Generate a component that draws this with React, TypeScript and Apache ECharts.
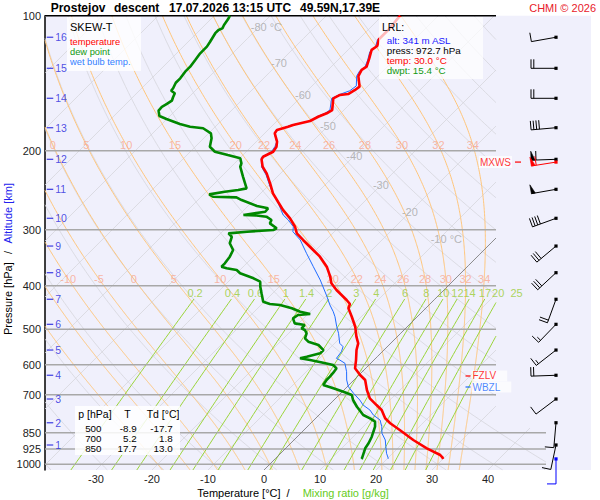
import React, { useEffect, useRef } from "react";
import * as echarts from "echarts";

// ---------------- sounding data: [pressure hPa, temperature °C] ----------------
const temperatureProfile: number[][] = [
  [100, -56.8], [102.2, -56.7], [106.7, -56.4], [111.4, -56.4], [112.9, -56.4], [116.8, -55.5],
  [119.2, -55.8], [124.5, -54.7], [129.9, -53.7], [132.1, -54.0], [136.3, -53.5], [143.9, -51.4],
  [146.4, -51.6], [149.5, -52.1], [150.2, -53.4], [152.8, -54.0], [162.3, -52.1], [165.0, -52.5],
  [168.0, -53.4], [171.7, -54.1], [175.3, -56.4], [176.8, -57.0], [179.8, -58.4], [182.9, -58.2],
  [190.9, -56.3], [195.9, -55.5], [201.0, -55.2], [206.3, -56.1], [209.1, -55.9], [217.1, -54.4],
  [224.6, -52.5], [236.4, -50.1], [248.9, -47.8], [259.9, -45.4], [271.2, -43.0], [282.9, -40.3],
  [295.4, -37.9], [305.6, -36.4], [316.2, -34.1], [332.9, -30.5], [344.5, -28.1], [362.6, -25.1],
  [381.7, -22.7], [395.0, -21.3], [408.8, -19.2], [430.3, -15.6], [439.2, -14.3], [449.0, -13.8],
  [468.8, -11.7], [493.5, -9.3], [519.5, -7.3], [537.4, -5.8], [556.3, -4.9], [585.6, -3.2],
  [611.0, -1.9], [632.4, 0.2], [648.9, 2.0], [683.1, 4.1], [712.8, 6.1], [737.8, 8.5],
  [756.8, 10.3], [789.7, 12.4], [810.2, 14.2], [838.6, 17.1], [882.7, 21.3], [921.1, 25.2],
  [953.5, 28.8], [964.8, 29.6], [972.7, 30.0],
];

const dewPointProfile: number[][] = [
  [100, -87.2], [101.9, -86.9], [104.9, -86.6], [106.7, -86.3], [107.6, -86.7], [109.4, -86.7],
  [114.3, -86.1], [117.2, -85.8], [121.3, -85.8], [125.5, -85.5], [129.9, -85.2], [133.3, -85.2],
  [137.9, -84.9], [141.1, -84.9], [145.1, -84.4], [147.0, -84.3], [148.9, -83.2], [152.0, -82.8],
  [154.7, -82.4], [157.3, -82.7], [159.6, -83.1], [162.8, -83.0], [167.3, -81.9], [169.9, -80.1],
  [174.4, -76.8], [176.8, -74.5], [178.2, -71.9], [182.9, -69.6], [187.6, -68.6], [195.9, -67.4],
  [201.0, -65.6], [204.5, -62.7], [207.9, -59.9], [213.3, -58.8], [217.1, -58.4], [228.6, -56.1],
  [242.6, -53.4], [244.7, -54.6], [246.8, -56.7], [250.2, -59.0], [253.3, -57.9], [254.1, -53.6],
  [257.6, -52.2], [265.6, -48.4], [268.8, -46.0], [273.5, -45.9], [278.2, -49.2], [278.9, -46.8],
  [280.6, -44.8], [285.4, -43.3], [290.3, -43.0], [297.8, -40.9], [300.4, -41.2], [303.0, -45.6],
  [305.6, -48.6], [311.0, -47.4], [321.6, -46.6], [332.9, -44.8], [344.5, -44.2], [356.4, -43.9],
  [362.6, -43.9], [365.6, -42.7], [368.8, -40.6], [375.1, -39.4], [384.9, -36.1], [391.7, -34.3],
  [401.8, -33.4], [415.7, -32.0], [434.0, -30.2], [439.2, -28.6], [441.4, -26.6], [449.0, -23.9],
  [456.9, -21.8], [462.4, -19.6], [464.8, -21.6], [472.8, -21.9], [485.1, -20.7], [489.3, -18.6],
  [497.6, -18.6], [501.9, -17.7], [510.5, -16.8], [523.7, -16.2], [533.0, -15.0], [542.0, -12.6],
  [556.3, -10.8], [565.8, -10.8], [575.7, -12.6], [580.5, -13.5], [585.6, -11.4], [593.7, -8.6],
  [600.7, -6.4], [611.0, -5.2], [624.9, -5.0], [637.8, -4.9], [648.9, -4.9], [665.7, -4.6],
  [677.1, -2.2], [689.0, 0.2], [700.7, 2.3], [718.9, 3.4], [744.3, 5.3], [776.4, 7.9],
  [789.7, 9.7], [803.5, 11.2], [824.5, 12.1], [846.0, 12.7], [867.9, 13.3], [897.7, 13.9],
  [921.1, 14.2], [945.1, 14.8], [969.6, 15.4], [972.7, 15.4],
];

const wetBulbProfile: number[][] = [
  [100, -57.0], [106.7, -56.6], [112.9, -56.6], [117.2, -55.7], [120.3, -55.8], [125.5, -54.7],
  [130.3, -53.9], [132.6, -54.2], [136.3, -53.8], [143.4, -52.1], [147.0, -52.4], [149.7, -53.5],
  [152.8, -54.3], [162.3, -52.5], [165.0, -52.8], [168.0, -53.7], [171.4, -53.9], [175.3, -56.7],
  [180.3, -58.5], [183.5, -58.1], [191.2, -56.3], [195.9, -55.8], [201.0, -55.5], [206.9, -56.3],
  [217.1, -54.6], [226.5, -52.3], [240.5, -49.5], [251.0, -47.4], [257.6, -45.9], [278.2, -42.1],
  [285.4, -40.3], [295.4, -38.2], [303.0, -37.4], [316.2, -34.6], [338.6, -31.1], [362.6, -27.5],
  [388.2, -23.9], [419.5, -20.1], [441.4, -17.7], [456.9, -15.9], [468.8, -14.7], [493.5, -12.6],
  [510.5, -11.1], [537.4, -9.1], [546.8, -7.9], [561.1, -7.3], [580.5, -7.0], [585.6, -6.1],
  [595.5, -4.6], [621.8, -2.8], [648.9, -1.3], [671.5, 0.2], [694.6, 2.3], [718.9, 4.6],
  [737.8, 6.1], [756.8, 8.2], [776.4, 9.7], [796.7, 11.8], [824.5, 13.3], [852.8, 14.5],
  [882.7, 16.3], [913.7, 17.6], [945.1, 18.9], [969.6, 20.1], [972.7, 20.1],
];

// ---------------- axes / reference values ----------------
const pressureTicks = [100, 200, 300, 400, 500, 600, 700, 850, 925, 1000];
const temperatureTicks = [-30, -20, -10, 0, 10, 20, 30, 40];
const altitudeKm = [1, 2, 3, 4, 5, 6, 7, 8, 9, 10, 11, 12, 13, 14, 15, 16];
const altitudePressure = [905.7, 807.9, 715.3, 633.2, 556.3, 487.5, 428.7, 374.0, 326.2, 282.9, 243.8, 209.0, 177.7, 152.8, 131.0, 111.7];
const windDirection = [192, 185, 233, 268, 232, 224, 200, 227, 230, 250, 260, 268, 265, 270, 270, 260];
const windSpeed = [10, 10, 10, 20, 15, 15, 20, 30, 30, 40, 50, 60, 40, 20, 20, 10];
const surfaceWind = [972.7, 180, 10]; // p, dir, kt
const maxWind = [212, 261, 60]; // p, dir, kt
const freezingLevelP = 635.5;
const wetBulbZeroP = 672.5;
const isothermLabelT = [-80, -70, -60, -50, -40, -30, -20, -10];
const isothermLabelP = [106.1, 127.5, 150.2, 176.2, 205.1, 238.5, 274.0, 315.1];
const moistThetaW = [-20, -15, -10, -5, 0, 5, 10, 15, 20, 22, 24, 26, 28, 30, 32, 34];
const moistLabelsUpper = [0, 5, 10, 15, 20, 22, 24, 26, 28, 30, 32, 34];
const moistLabelsLower = [-10, -5, 0, 5, 10, 15, 20, 22, 24, 26, 28, 30, 32, 34];
const mixingRatios = [0.2, 0.4, 0.6, 1, 1.4, 2, 3, 4, 6, 8, 10, 12, 14, 17, 20, 25];
const tablePressure = [500, 700, 850];
const tableTemp = [-8.9, 5.2, 17.7];
const tableDew = [-17.7, 1.8, 13.0];
const lrlAlt = 341;
const lrlPress = 972.7;
const lrlTemp = 30.0;
const lrlDwpt = 15.4;

// ---------------- layout ----------------
const FONT = "'Liberation Sans', Arial, Helvetica, sans-serif";
const PLOT_LEFT = 45;
const PLOT_RIGHT = 591;
const PLOT_TOP = 15.7;
const PLOT_BOTTOM = 470;
const DEG_PX = 5.6;
const DECADE_PX = 448.6;
const ZERO_PX = 264;
const Y_MIN = 2;
const Y_MAX = 2 + (PLOT_BOTTOM - PLOT_TOP) / DECADE_PX;
const X_MIN = (PLOT_LEFT - ZERO_PX) / DEG_PX;
const X_MAX = (PLOT_RIGHT - ZERO_PX) / DEG_PX;
const SKEW = DECADE_PX / DEG_PX;
const P_BOTTOM = Math.pow(10, Y_MAX);
const log = Math.log10;
const skewX = (T: number, p: number) => T + (Y_MAX - log(p)) * SKEW;
const pxToX = (px: number) => (px - ZERO_PX) / DEG_PX;
const pyToY = (py: number) => Y_MIN + (py - PLOT_TOP) / DECADE_PX;
const LOW_BAND_Y = pyToY(428);
const rightEdge = (y: number) => (y >= LOW_BAND_Y ? pxToX(546) : pxToX(496));
const inside = (x: number, y: number) =>
  x >= X_MIN && x <= rightEdge(y) && y >= Y_MIN - 1e-9 && y <= Y_MAX + 1e-9;

function clip(pts: number[][]): number[][][] {
  const segs: number[][][] = [];
  let cur: number[][] = [];
  for (let i = 0; i < pts.length; i++) {
    const p = pts[i];
    const inP = inside(p[0], p[1]);
    if (i > 0) {
      const q = pts[i - 1];
      const inQ = inside(q[0], q[1]);
      if (inQ !== inP) {
        let a = 0, b = 1;
        for (let k = 0; k < 24; k++) {
          const m = (a + b) / 2;
          const mx = q[0] + (p[0] - q[0]) * m, my = q[1] + (p[1] - q[1]) * m;
          if (inside(mx, my) === inQ) a = m; else b = m;
        }
        const t = inQ ? a : b;
        const ip = [q[0] + (p[0] - q[0]) * t, q[1] + (p[1] - q[1]) * t];
        if (inQ) { cur.push(ip); if (cur.length > 1) segs.push(cur); cur = []; }
        else cur = [ip];
      }
    }
    if (inP) cur.push(p);
  }
  if (cur.length > 1) segs.push(cur);
  return segs;
}

function sampleY(fn: (y: number) => number[], n: number) {
  const pts: number[][] = [];
  for (let i = 0; i <= n; i++) pts.push(fn(Y_MIN + ((Y_MAX - Y_MIN) * i) / n));
  return pts;
}

function moistCurve(thw: number): number[][] {
  const Rd = 287.04, Cp = 1005.7, Lv = 2.501e6, eps = 0.622;
  const f = (Tk: number, p: number) => {
    const Tc = Tk - 273.15;
    const e = 6.112 * Math.exp((17.67 * Tc) / (Tc + 243.5));
    const rs = (eps * e) / (p - e);
    return (Rd * Tk + Lv * rs) / (p * (Cp + (Lv * Lv * rs * eps) / (Rd * Tk * Tk)));
  };
  const step = (T: number, p: number, h: number) => {
    const k1 = f(T, p), k2 = f(T + (h * k1) / 2, p + h / 2), k3 = f(T + (h * k2) / 2, p + h / 2), k4 = f(T + h * k3, p + h);
    return T + (h * (k1 + 2 * k2 + 2 * k3 + k4)) / 6;
  };
  const down: number[][] = [];
  let T = thw + 273.15, p = 1000;
  while (p < P_BOTTOM - 1e-6) { const h = Math.min(2, P_BOTTOM - p); T = step(T, p, h); p += h; down.push([p, T - 273.15]); }
  const up: number[][] = [[1000, thw]];
  T = thw + 273.15; p = 1000;
  while (p > 100 + 1e-6) { const h = -Math.min(2, p - 100); T = step(T, p, h); p += h; up.push([p, T - 273.15]); }
  return down.reverse().concat(up);
}

function tempAt(curve: number[][], p: number) {
  for (let i = 0; i < curve.length - 1; i++) {
    const a = curve[i], b = curve[i + 1];
    if ((a[0] - p) * (b[0] - p) <= 0) {
      const t = (p - a[0]) / (b[0] - a[0] || 1);
      return a[1] + (b[1] - a[1]) * t;
    }
  }
  return curve[curve.length - 1][1];
}

const dewFromMixing = (w: number, p: number) => {
  const e = (w * p) / (622 + w);
  const a = Math.log(e / 6.112);
  return (243.5 * a) / (17.67 - a);
};

function bgLines(segs: number[][][], color: string, width: number, z: number) {
  return {
    type: "lines", coordinateSystem: "cartesian2d", polyline: true, silent: true, z,
    data: segs.map((c) => ({ coords: c })),
    lineStyle: { color, width, opacity: 1 },
  };
}

function textSeries(items: { x: number; y: number; text: string }[], color: string, fontSize: number, extra: any = {}, z = 4) {
  return {
    type: "scatter", symbolSize: 1, silent: true, z,
    itemStyle: { color: "rgba(0,0,0,0)" },
    data: items.map((it) => ({ value: [it.x, it.y], name: it.text })),
    label: { show: true, position: "inside", formatter: "{b}", color, fontSize, fontFamily: FONT, ...extra },
  };
}

function buildOption() {
  const isoSegs: number[][][] = [];
  for (let T = -130; T <= 50; T += 10) isoSegs.push(...clip(sampleY((y) => [skewX(T, Math.pow(10, y)), y], 40)));
  const drySegs: number[][][] = [];
  for (let th = -40; th <= 180; th += 10)
    drySegs.push(...clip(sampleY((y) => {
      const p = Math.pow(10, y);
      return [skewX((th + 273.15) * Math.pow(p / 1000, 0.2857) - 273.15, p), y];
    }, 160)));
  const moistCurves: Record<number, number[][]> = {};
  const moistSegs: number[][][] = [];
  moistThetaW.forEach((tw) => {
    const c = moistCurve(tw);
    moistCurves[tw] = c;
    moistSegs.push(...clip(c.map(([p, T]) => [skewX(T, p), log(p)])));
  });
  const MIX_TOP = 428, MIX_LABEL = 416;
  const mixSegs: number[][][] = [];
  mixingRatios.forEach((w) => {
    const pts: number[][] = [];
    for (let i = 0; i <= 40; i++) {
      const y = log(P_BOTTOM) + ((log(MIX_TOP) - log(P_BOTTOM)) * i) / 40;
      const p = Math.pow(10, y);
      pts.push([skewX(dewFromMixing(w, p), p), y]);
    }
    mixSegs.push(...clip(pts));
  });
  const isobarSegs: number[][][] = pressureTicks.filter((p) => p > 100).map((p) => [[X_MIN, log(p)], [rightEdge(log(p)), log(p)]]);
  const topSeg = [[[X_MIN, Y_MIN], [pxToX(496), Y_MIN]]];
  const zeroSegs = clip(sampleY((y) => [skewX(0, Math.pow(10, y)), y], 40));

  const profile = (arr: number[][]) => arr.map(([p, T]) => [skewX(T, p), log(p)]);

  const isoLabels = isothermLabelT.map((T, i) => ({
    x: skewX(T, isothermLabelP[i]), y: log(isothermLabelP[i]),
    text: T === -80 || T === -10 ? `${T} °C` : `${T}`,
  }));
  const P_UP = 194.2, P_LOW = 386.2;
  const moistLabUp = moistLabelsUpper.map((tw) => ({ x: skewX(tempAt(moistCurves[tw], P_UP), P_UP), y: log(P_UP), text: `${tw}` }));
  const moistLabLow = moistLabelsLower.map((tw) => ({ x: skewX(tempAt(moistCurves[tw], P_LOW), P_LOW), y: log(P_LOW), text: `${tw}` }));
  const mixLabels = mixingRatios.map((w) => ({ x: skewX(dewFromMixing(w, MIX_LABEL), MIX_LABEL), y: log(MIX_LABEL), text: `${w}` }));

  const ALT_X = pxToX(50);
  const BARB_X = pxToX(556);
  const barbColors = ["#000000", "#ff0000", "#0000ff"];
  const barbData = altitudeKm.map((k, i) => [BARB_X, log(altitudePressure[i]), windDirection[i], windSpeed[i], 0]);
  barbData.push([BARB_X, log(surfaceWind[0]), surfaceWind[1], surfaceWind[2], 2]);
  barbData.push([BARB_X, log(maxWind[0]), maxWind[1], maxWind[2], 1]);

  const renderBarb = (params: any, api: any) => {
    const c = api.coord([api.value(0), api.value(1)]);
    const dir = (api.value(2) * Math.PI) / 180;
    const col = barbColors[api.value(4)];
    const sx = Math.sin(dir), sy = -Math.cos(dir);
    const bx = -sy, by = sx;
    const L = 25, B = 9;
    const ex = c[0] + L * sx, ey = c[1] + L * sy;
    const children: any[] = [
      { type: "line", shape: { x1: c[0], y1: c[1], x2: ex, y2: ey }, style: { stroke: col, lineWidth: 1 } },
      { type: "rect", shape: { x: c[0] - 1.6, y: c[1] - 1.6, width: 3.2, height: 3.2 }, style: { fill: col } },
    ];
    let s = Math.round(api.value(3) / 5) * 5;
    let pos = 0;
    while (s >= 50) {
      const ax = ex - pos * sx, ay = ey - pos * sy;
      children.push({ type: "polygon", shape: { points: [[ax, ay], [ax - 4 * sx, ay - 4 * sy], [ax + B * bx, ay + B * by]] }, style: { fill: col, stroke: col, lineWidth: 0.6 } });
      pos += 5; s -= 50;
    }
    while (s >= 10) {
      const ax = ex - pos * sx, ay = ey - pos * sy;
      children.push({ type: "line", shape: { x1: ax, y1: ay, x2: ax + B * bx, y2: ay + B * by }, style: { stroke: col, lineWidth: 1 } });
      pos += 2.8; s -= 10;
    }
    if (s >= 5) {
      if (pos === 0) pos = 2.8;
      const ax = ex - pos * sx, ay = ey - pos * sy;
      children.push({ type: "line", shape: { x1: ax, y1: ay, x2: ax + (B / 2) * bx, y2: ay + (B / 2) * by }, style: { stroke: col, lineWidth: 1 } });
    }
    return { type: "group", children };
  };

  const gtext = (x: number, y: number, text: string, o: any = {}) => ({
    type: "text", x, y, z: 30, silent: true, rotation: o.rotation || 0,
    style: {
      text, fill: o.fill || "#000", fontSize: o.size || 9.8, fontFamily: FONT, fontWeight: o.weight || "normal",
      align: o.align || "left", verticalAlign: "middle",
    },
  });
  const box = (x: number, y: number, w: number, h: number, op: number) => ({
    type: "rect", z: 25, silent: true, shape: { x, y, width: w, height: h }, style: { fill: `rgba(255,255,255,${op})` },
  });

  const graphic: any[] = [
    gtext(50.7, 7.5, "Prostejov", { weight: "bold", size: 12 }),
    gtext(114, 7.5, "descent", { weight: "bold", size: 12 }),
    gtext(169, 7.5, "17.07.2026 13:15 UTC", { weight: "bold", size: 12 }),
    gtext(300, 7.5, "49.59N,17.39E", { weight: "bold", size: 12 }),
    gtext(596, 7.5, "CHMI © 2026", { fill: "#e8202a", size: 11, align: "right" }),
    box(67, 17, 74, 54, 0.8),
    gtext(70, 26.7, "SKEW-T", { size: 11 }),
    gtext(70, 42.3, "temperature", { fill: "#ff0000", size: 9.3 }),
    gtext(70, 51.9, "dew point", { fill: "#119911", size: 9.3 }),
    gtext(70, 61.7, "wet bulb temp.", { fill: "#3380ff", size: 9.3 }),
    box(379, 17, 104, 62, 0.72),
    gtext(382, 27.3, "LRL:", { size: 10.5 }),
    gtext(386.7, 40, `alt: ${lrlAlt} m ASL`, { fill: "#1a1aff" }),
    gtext(386.7, 50.3, `press: ${lrlPress.toFixed(1)} hPa`),
    gtext(386.7, 60.5, `temp: ${lrlTemp.toFixed(1)} °C`, { fill: "#ff0000" }),
    gtext(386.7, 70.6, `dwpt: ${lrlDwpt.toFixed(1)} °C`, { fill: "#119911" }),
    box(75, 406, 105, 49, 0.85),
    gtext(78.3, 413.7, "p [hPa]", { size: 10.5 }),
    gtext(127.5, 413.7, "T", { size: 10.5, align: "center" }),
    gtext(146.7, 413.7, "Td [°C]", { size: 10.5 }),
    ...tablePressure.flatMap((p, i) => [
      gtext(93.3, 428.7 + i * 10, `${p}`, { align: "center" }),
      gtext(136.7, 428.7 + i * 10, tableTemp[i].toFixed(1), { align: "right" }),
      gtext(172.7, 428.7 + i * 10, tableDew[i].toFixed(1), { align: "right" }),
    ]),
    gtext(197.3, 493.3, "Temperature [°C]", { size: 11 }),
    gtext(288, 493.3, "/", { size: 11, align: "center" }),
    gtext(302.7, 493.3, "Mixing ratio [g/kg]", { size: 11, fill: "#66cc22" }),
    gtext(8, 335, "Pressure [hPa]", { size: 11, rotation: Math.PI / 2 }),
    gtext(8, 252.5, "/", { size: 11, rotation: Math.PI / 2, align: "center" }),
    gtext(8, 243.5, "Altitude [km]", { size: 11, rotation: Math.PI / 2, fill: "#2222ee" }),
  ];

  return {
    animation: false,
    textStyle: { fontFamily: FONT },
    grid: {
      left: PLOT_LEFT, right: 600 - PLOT_RIGHT, top: PLOT_TOP, bottom: 500 - PLOT_BOTTOM,
      show: true, backgroundColor: "#f0f0fc", borderWidth: 0, containLabel: false, outerBoundsMode: "none",
    },
    xAxis: {
      type: "value", min: X_MIN, max: X_MAX,
      axisLine: { show: false, onZero: false }, axisTick: { show: false }, splitLine: { show: false },
      axisLabel: { customValues: temperatureTicks, color: "#222", fontSize: 11, margin: 3, fontFamily: FONT, formatter: (v: number) => `${v}` },
    },
    yAxis: {
      type: "value", inverse: true, min: Y_MIN, max: Y_MAX,
      axisLine: { show: true, onZero: false, lineStyle: { color: "#000", width: 1.5 } },
      axisTick: { show: false }, splitLine: { show: false },
      axisLabel: {
        customValues: pressureTicks.map((p) => log(p)), color: "#222", fontSize: 11, margin: 4, fontFamily: FONT,
        formatter: (v: number) => `${Math.round(Math.pow(10, v))}`,
      },
    },
    graphic,
    series: [
      bgLines(isoSegs, "#d6d6dc", 0.8, 1),
      bgLines(drySegs, "#d6d6dc", 0.8, 1),
      bgLines(moistSegs, "#ffc57a", 1, 1),
      bgLines(mixSegs, "#9ad43a", 1, 1),
      bgLines(isobarSegs, "#a8a8a8", 1.5, 2),
      bgLines(topSeg, "#000000", 1.6, 2),
      bgLines(zeroSegs, "#777777", 0.8, 2),
      textSeries(isoLabels, "#a6a6a6", 11, { align: "left", offset: [-8, 0] }),
      textSeries(moistLabUp, "#f9a78f", 11),
      textSeries(moistLabLow, "#f9a78f", 11),
      textSeries(mixLabels, "#99cc33", 11, { offset: [-3, 0] }),
      { type: "line", data: profile(wetBulbProfile), symbol: "none", silent: true, z: 5, lineStyle: { color: "#1f6bff", width: 1 } },
      { type: "line", data: profile(dewPointProfile), symbol: "none", silent: true, z: 6, lineStyle: { color: "#008800", width: 2.6 } },
      { type: "line", data: profile(temperatureProfile), symbol: "none", silent: true, z: 7, lineStyle: { color: "#ff0000", width: 2.6 } },
      {
        type: "scatter", silent: true, z: 8, symbol: "rect", symbolSize: [6.5, 1.3], itemStyle: { color: "#1f1fdd" },
        data: altitudeKm.map((k, i) => ({ value: [ALT_X, log(altitudePressure[i])], name: `${k}` })),
        label: { show: true, position: "right", distance: 2, formatter: "{b}", color: "#1f1fdd", fontSize: 10.5, fontFamily: FONT },
      },
      {
        type: "scatter", silent: true, z: 8, symbol: "rect", symbolSize: [5, 1.5],
        data: [
          { value: [pxToX(468), log(freezingLevelP)], name: "FZLV", itemStyle: { color: "#ff0000" }, label: { color: "#ff0000" } },
          { value: [pxToX(468), log(wetBulbZeroP)], name: "WBZL", itemStyle: { color: "#1f6bff" }, label: { color: "#1f6bff" } },
        ],
        label: { show: true, position: "right", distance: 1, formatter: "{b}", fontSize: 10, fontFamily: FONT, backgroundColor: "rgba(255,255,255,0.9)", padding: [1, 11, 0, 1] },
      },
      {
        type: "scatter", silent: true, z: 8, symbol: "rect", symbolSize: [6, 1.5], itemStyle: { color: "#ff0000" },
        data: [{ value: [pxToX(518), log(maxWind[0])], name: "MXWS" }],
        label: { show: true, position: "left", distance: 3, formatter: "{b}", color: "#ff0000", fontSize: 10, fontFamily: FONT, backgroundColor: "rgba(255,255,255,0.9)", padding: [1, 1, 1, 1] },
      },
      { type: "custom", silent: true, z: 9, clip: false, data: barbData, renderItem: renderBarb },
    ],
  };
}

export default function App() {
  const ref = useRef<HTMLDivElement>(null);
  useEffect(() => {
    document.body.style.margin = "0";
    const chart = echarts.init(ref.current as HTMLDivElement, undefined, { renderer: "svg" });
    chart.setOption(buildOption() as any);
    return () => chart.dispose();
  }, []);
  return <div ref={ref} style={{ width: 600, height: 500 }} />;
}
